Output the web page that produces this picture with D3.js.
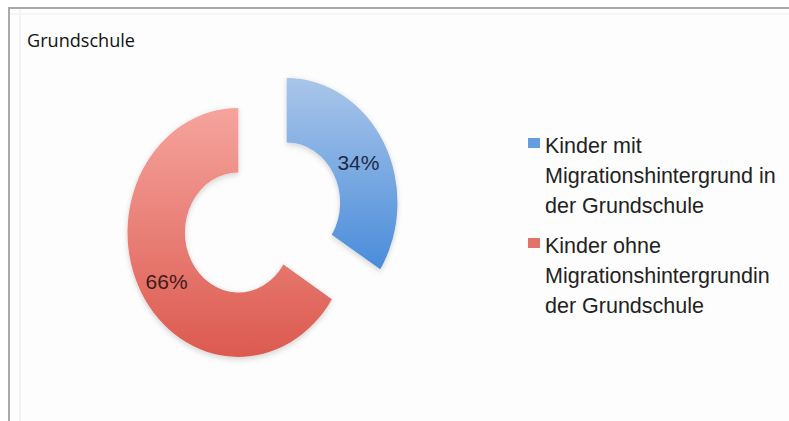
<!DOCTYPE html>
<html>
<head>
<meta charset="utf-8">
<script src="https://cdn.jsdelivr.net/npm/d3@7"></script>
<style>
  html, body { margin: 0; padding: 0; background: #ffffff; }
  svg { display: block; }
</style>
</head>
<body>
<svg id="chart" width="789" height="421"></svg>
<script>
// ---- data ----
const title = "Grundschule";
const categories = ["mit", "ohne"];
const values = [34, 66];
const valueLabels = ["34%", "66%"];
const legendLines = [
  ["Kinder mit", "Migrationshintergrund in", "der Grundschule"],
  ["Kinder ohne", "Migrationshintergrundin", "der Grundschule"]
];
const colorsTop = ["#a9c6ea", "#f5a49d"];
const colorsBottom = ["#4a8cda", "#dc5a4f"];
const labelColors = ["#1d2a47", "#3e1b1b"];

// ---- layout ----
const W = 789, H = 421;
const svg = d3.select("#chart");
const defs = svg.append("defs");

// frame
svg.append("rect").attr("x", 0).attr("y", 0).attr("width", W).attr("height", H).attr("fill", "#ffffff");
svg.append("rect").attr("x", 9).attr("y", 8).attr("width", W).attr("height", H)
  .attr("fill", "#fdfdfd").attr("stroke", "#a9a9a9").attr("stroke-width", 2);
svg.append("line").attr("x1", 20).attr("x2", 20).attr("y1", 9).attr("y2", H)
  .attr("stroke", "#f3f3f3").attr("stroke-width", 2);
svg.append("line").attr("x1", 10).attr("x2", W).attr("y1", 14).attr("y2", 14)
  .attr("stroke", "#f5f5f5").attr("stroke-width", 2);

// title
svg.append("text").attr("x", 27).attr("y", 47)
  .attr("font-family", "'Open Sans', sans-serif").attr("font-size", 18)
  .attr("fill", "#111").attr("textLength", 108).attr("lengthAdjust", "spacingAndGlyphs")
  .text(title);

// gradients
categories.forEach((c, i) => {
  const g = defs.append("linearGradient").attr("id", "grad" + i)
    .attr("x1", 0).attr("y1", 0).attr("x2", 0).attr("y2", 1);
  g.append("stop").attr("offset", "0%").attr("stop-color", colorsTop[i]);
  g.append("stop").attr("offset", "100%").attr("stop-color", colorsBottom[i]);
});
const f = defs.append("filter").attr("id", "shadow")
  .attr("x", "-20%").attr("y", "-20%").attr("width", "140%").attr("height", "140%");
f.append("feDropShadow").attr("dx", 0).attr("dy", 2).attr("stdDeviation", 3)
  .attr("flood-color", "#000").attr("flood-opacity", 0.18);

// donut
const cx = 262.5, cy = 217.5, sx = 0.89;
const R = 124.5, r = 60, explode = 31, labelR = 92;
const pie = d3.pie().sort(null).value(d => d);
const arcs = pie(values);
const arc = d3.arc().innerRadius(r).outerRadius(R);
const labelArc = d3.arc().innerRadius(labelR).outerRadius(labelR);
const shift = d => {
  const a = (d.startAngle + d.endAngle) / 2;
  return [explode * Math.sin(a), -explode * Math.cos(a)];
};

const donut = svg.append("g").attr("transform", `translate(${cx},${cy}) scale(${sx},1)`);
donut.selectAll("path").data(arcs).enter().append("path")
  .attr("transform", d => `translate(${shift(d)[0]},${shift(d)[1]})`)
  .attr("d", arc)
  .attr("fill", (d, i) => `url(#grad${i})`)
  .attr("filter", "url(#shadow)");

// value labels
svg.selectAll("text.val").data(arcs).enter().append("text")
  .attr("class", "val")
  .attr("x", d => cx + sx * (labelArc.centroid(d)[0] + shift(d)[0]))
  .attr("y", d => cy + labelArc.centroid(d)[1] + shift(d)[1] + 12)
  .attr("text-anchor", "middle")
  .attr("font-family", "'Liberation Sans', Arial, sans-serif")
  .attr("font-size", 21)
  .attr("fill", (d, i) => labelColors[i])
  .text((d, i) => valueLabels[i]);

// legend
const legX = 528, legTextX = 545;
const legTop = [153, 253];
const lineH = 30;
const leg = svg.append("g");
legendLines.forEach((lines, i) => {
  leg.append("rect").attr("x", legX).attr("y", legTop[i] - 15).attr("width", 12).attr("height", 10)
    .attr("fill", colorsBottom[i]).attr("opacity", 0.85);
  lines.forEach((t, j) => {
    leg.append("text").attr("x", legTextX).attr("y", legTop[i] + j * lineH)
      .attr("font-family", "'Liberation Sans', Arial, sans-serif")
      .attr("font-size", 21.5).attr("fill", "#222")
      .text(t);
  });
});
</script>
</body>
</html>
